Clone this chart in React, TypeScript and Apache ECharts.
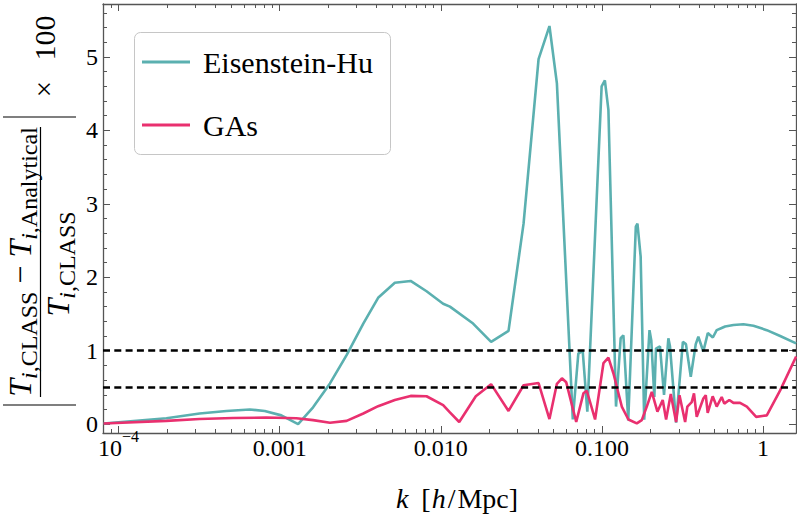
import React, { useEffect, useRef } from 'react';
import * as echarts from 'echarts';

// ---------------- data ----------------
const kEH = [8.07e-5, 1.98e-4, 3.18e-4, 4.67e-4, 6.52e-4, 8.07e-4, 1.023e-3, 1.3e-3, 1.61e-3, 2.05e-3, 2.6e-3, 3.3e-3, 4.08e-3, 5.18e-3, 6.49e-3, 8.15e-3, 1.033e-2, 1.138e-2, 1.585e-2, 2.05e-2, 2.63e-2, 3.26e-2, 4.04e-2, 4.72e-2, 5.25e-2, 6.59e-2, 7.13e-2, 7.59e-2, 8.11e-2, 9.95e-2, 0.1042, 0.1096, 0.1222, 0.1306, 0.1358, 0.1455, 0.1622, 0.166, 0.1738, 0.1828, 0.1972, 0.2023, 0.2113, 0.2163, 0.229, 0.2427, 0.2582, 0.2642, 0.2884, 0.3177, 0.3319, 0.3556, 0.3819, 0.3963, 0.4256, 0.4536, 0.4875, 0.5152, 0.5534, 0.5808, 0.6546, 0.7551, 0.871, 1.054, 1.276, 1.603];
const ehValues = [0.01, 0.08, 0.145, 0.18, 0.2, 0.18, 0.12, 0.0, 0.23, 0.555, 0.94, 1.37, 1.72, 1.925, 1.95, 1.81, 1.64, 1.6, 1.37, 1.12, 1.27, 2.73, 4.97, 5.42, 4.64, 0.064, 0.96, 1.0, 0.17, 4.6, 4.68, 4.28, 0.24, 1.17, 1.21, 0.05, 2.69, 2.73, 2.28, 0.06, 1.28, 1.14, 0.37, 1.03, 1.06, 0.4, 1.17, 1.06, 0.02, 1.12, 1.09, 0.645, 1.09, 1.19, 0.99, 1.24, 1.18, 1.28, 1.31, 1.33, 1.35, 1.36, 1.34, 1.28, 1.2, 1.1];

const kGA = [8.07e-5, 1.98e-4, 3.18e-4, 5.13e-4, 8.26e-4, 1.268e-3, 1.61e-3, 2.05e-3, 2.6e-3, 3.3e-3, 4.08e-3, 5.18e-3, 6.49e-3, 8.15e-3, 1.033e-2, 1.138e-2, 1.3e-2, 1.648e-2, 2.05e-2, 2.63e-2, 3.26e-2, 4.04e-2, 4.72e-2, 5.25e-2, 5.64e-2, 6.0e-2, 6.92e-2, 7.67e-2, 8.05e-2, 9.06e-2, 0.1021, 0.1096, 0.1178, 0.1327, 0.1459, 0.1644, 0.1766, 0.1897, 0.2037, 0.2208, 0.2382, 0.25, 0.2673, 0.2884, 0.3027, 0.3281, 0.3388, 0.3606, 0.3724, 0.3873, 0.4256, 0.4406, 0.4529, 0.4864, 0.5152, 0.5534, 0.5741, 0.6166, 0.6546, 0.7194, 0.7925, 0.9057, 1.054, 1.276, 1.603];
const gaValues = [0.01, 0.045, 0.07, 0.085, 0.09, 0.08, 0.055, 0.02, 0.045, 0.145, 0.245, 0.33, 0.385, 0.38, 0.26, 0.16, 0.03, 0.38, 0.545, 0.18, 0.53, 0.56, 0.07, 0.55, 0.625, 0.57, 0.03, 0.42, 0.455, 0.064, 0.83, 0.905, 0.69, 0.24, 0.064, 0.01, 0.055, 0.24, 0.44, 0.17, 0.33, 0.064, 0.41, 0.03, 0.395, 0.03, 0.24, 0.3, 0.42, 0.1, 0.35, 0.395, 0.155, 0.38, 0.24, 0.37, 0.28, 0.33, 0.29, 0.29, 0.24, 0.1, 0.12, 0.46, 0.92];

const seriesNames = ['Eisenstein-Hu', 'GAs'];
const refLevels = [1, 0.5];

const xMajorTicks = [1e-4, 1e-3, 1e-2, 1e-1, 1];
const xTickLabels = ['10^-4', '0.001', '0.010', '0.100', '1'];
const xMinorTicks = [
  9e-5,
  2e-4, 3e-4, 4e-4, 5e-4, 6e-4, 7e-4, 8e-4, 9e-4,
  2e-3, 3e-3, 4e-3, 5e-3, 6e-3, 7e-3, 8e-3, 9e-3,
  2e-2, 3e-2, 4e-2, 5e-2, 6e-2, 7e-2, 8e-2, 9e-2,
  0.2, 0.3, 0.4, 0.5, 0.6, 0.7, 0.8, 0.9,
];
const yMajorTicks = [0, 1, 2, 3, 4, 5];
const yTickLabels = ['0', '1', '2', '3', '4', '5'];
const yMinorTicks = [0.2, 0.4, 0.6, 0.8, 1.2, 1.4, 1.6, 1.8, 2.2, 2.4, 2.6, 2.8, 3.2, 3.4, 3.6, 3.8, 4.2, 4.4, 4.6, 4.8, 5.2, 5.4, 5.6];

const X_MIN = 8e-5;
const X_MAX = 1.6;
const Y_MIN = -0.12;
const Y_MAX = 5.72;

// ---------------- styles ----------------
const FAMILY = 'Liberation Serif';
const TEAL = '#5BB0B0';
const PINK = '#E9306F';
const FRAME = '#555555';

function measure(text: string, size: number, italic: boolean): number {
  const ctx = document.createElement('canvas').getContext('2d');
  if (!ctx) return text.length * size * 0.5;
  ctx.font = `${italic ? 'italic ' : ''}${size}px "${FAMILY}"`;
  return ctx.measureText(text).width;
}

type Piece = [string, number, boolean, boolean]; // text, size, italic, isSub

function layoutPieces(pieces: Piece[], centerU: number, mainV: number, subV: number) {
  const widths = pieces.map((p) => measure(p[0], p[1], p[2]));
  const total = widths.reduce((a, b) => a + b, 0);
  let u = centerU - total / 2;
  return pieces.map((p, i) => {
    const el = {
      type: 'text',
      x: u,
      y: p[3] ? subV : mainV,
      silent: true,
      style: {
        text: p[0],
        fontSize: p[1],
        fontFamily: FAMILY,
        fontStyle: p[2] ? 'italic' : 'normal',
        fill: '#000',
        align: 'left',
        verticalAlign: 'middle',
      },
    };
    u += widths[i];
    return el;
  });
}

function buildYTitle() {
  const M = 32;
  const S = 24;
  const numerator: Piece[] = [
    ['T', M, true, false],
    ['i', S, true, true],
    [',CLASS', S, false, true],
    [' \u2212 ', M, false, false],
    ['T', M, true, false],
    ['i', S, true, true],
    [',Analytical', S, false, true],
  ];
  const denominator: Piece[] = [
    ['T', M, true, false],
    ['i', S, true, true],
    [',CLASS', S, false, true],
  ];
  const lineStyle = { stroke: '#000', lineWidth: 1.2 };
  const children: any[] = [
    { type: 'line', silent: true, shape: { x1: 35, y1: 3, x2: 35, y2: 76 }, style: lineStyle },
    { type: 'line', silent: true, shape: { x1: 323, y1: 3, x2: 323, y2: 76 }, style: lineStyle },
    { type: 'line', silent: true, shape: { x1: 43, y1: 40.5, x2: 313, y2: 40.5 }, style: lineStyle },
    ...layoutPieces(numerator, 178, 19.5, 28.5),
    ...layoutPieces(denominator, 176, 57.5, 66.5),
    {
      type: 'text', x: 351, y: 44, silent: true,
      style: { text: '\u00d7', fontSize: 29, fontFamily: FAMILY, fill: '#000', align: 'center', verticalAlign: 'middle' },
    },
    {
      type: 'text', x: 402, y: 44, silent: true,
      style: { text: '100', fontSize: 30, fontFamily: FAMILY, fill: '#000', align: 'center', verticalAlign: 'middle' },
    },
  ];
  return { type: 'group', x: 0, y: 440, rotation: Math.PI / 2, children };
}

function xLabelFormatter(v: number): string {
  const i = xMajorTicks.findIndex((t) => Math.abs(Math.log10(t) - Math.log10(v)) < 1e-6);
  const lab = i >= 0 ? xTickLabels[i] : '';
  if (lab.indexOf('^') >= 0) {
    const [b, e] = lab.split('^');
    return `{b|${b}}{s|${e.replace('-', '\u2212')}}`;
  }
  return `{b|${lab}}`;
}

function xAxisDef(gridIndex: number, position: 'bottom' | 'top', values: number[], len: number, labels: boolean, showLine: boolean) {
  return {
    type: 'log',
    logBase: 10,
    gridIndex,
    position,
    min: X_MIN,
    max: X_MAX,
    splitLine: { show: false },
    minorTick: { show: false },
    axisLine: { show: showLine, onZero: false, lineStyle: { color: FRAME, width: 1.3 } },
    axisTick: { show: true, inside: true, length: len, customValues: values, lineStyle: { color: FRAME, width: 1 } },
    axisLabel: labels
      ? {
          show: true,
          customValues: xMajorTicks,
          margin: -5,
          formatter: xLabelFormatter,
          rich: {
            b: { fontSize: 24, fontFamily: FAMILY, color: '#000', padding: [8, 0, 0, 0], verticalAlign: 'bottom' },
            s: { fontSize: 16, fontFamily: FAMILY, color: '#000', verticalAlign: 'top' },
          },
        }
      : { show: false },
  };
}

function yAxisDef(gridIndex: number, position: 'left' | 'right', values: number[], len: number, labels: boolean, showLine: boolean) {
  return {
    type: 'value',
    gridIndex,
    position,
    min: Y_MIN,
    max: Y_MAX,
    splitLine: { show: false },
    minorTick: { show: false },
    axisLine: { show: showLine, onZero: false, lineStyle: { color: FRAME, width: 1.3 } },
    axisTick: { show: true, inside: true, length: len, customValues: values, lineStyle: { color: FRAME, width: 1 } },
    axisLabel: labels
      ? {
          show: true,
          customValues: yMajorTicks,
          margin: 5,
          fontSize: 24,
          fontFamily: FAMILY,
          color: '#000',
          formatter: (v: number) => {
            const i = yMajorTicks.findIndex((t) => Math.abs(t - v) < 1e-9);
            return i >= 0 ? yTickLabels[i] : '';
          },
        }
      : { show: false },
  };
}

export default function App() {
  const ref = useRef<HTMLDivElement>(null);
  useEffect(() => {
    if (!ref.current) return;
    const chart = echarts.init(ref.current, null, { renderer: 'svg' });
    const gridBox = { left: 103, right: 1, top: 4, bottom: 86, outerBoundsMode: 'none', containLabel: false };
    const option: any = {
      animation: false,
      backgroundColor: '#ffffff',
      grid: [gridBox, { ...gridBox }],
      legend: {
        data: seriesNames,
        orient: 'vertical',
        left: 134,
        top: 32,
        padding: [15, 18, 15, 8],
        itemGap: 33,
        itemWidth: 48,
        itemHeight: 3,
        icon: 'rect',
        selectedMode: false,
        textStyle: { fontFamily: FAMILY, fontSize: 30, color: '#000', lineHeight: 30, padding: [0, 0, 0, 8] },
      },
      xAxis: [
        xAxisDef(0, 'bottom', xMajorTicks, 7, true, true),
        xAxisDef(0, 'top', xMajorTicks, 7, false, true),
        xAxisDef(1, 'bottom', xMinorTicks, 4, false, false),
        xAxisDef(1, 'top', xMinorTicks, 4, false, false),
      ],
      yAxis: [
        yAxisDef(0, 'left', yMajorTicks, 7, true, true),
        yAxisDef(0, 'right', yMajorTicks, 7, false, true),
        yAxisDef(1, 'left', yMinorTicks, 4, false, false),
        yAxisDef(1, 'right', yMinorTicks, 4, false, false),
      ],
      series: [
        {
          name: seriesNames[0],
          type: 'line',
          xAxisIndex: 0,
          yAxisIndex: 0,
          data: kEH.map((k, i) => [k, ehValues[i]]),
          showSymbol: false,
          symbol: 'none',
          color: TEAL,
          lineStyle: { color: TEAL, width: 2.6 },
          silent: true,
          z: 2,
        },
        {
          name: seriesNames[1],
          type: 'line',
          xAxisIndex: 0,
          yAxisIndex: 0,
          data: kGA.map((k, i) => [k, gaValues[i]]),
          showSymbol: false,
          symbol: 'none',
          color: PINK,
          lineStyle: { color: PINK, width: 2.6 },
          silent: true,
          z: 3,
        },
        {
          name: 'ref',
          type: 'line',
          xAxisIndex: 0,
          yAxisIndex: 0,
          data: [],
          silent: true,
          z: 4,
          markLine: {
            silent: true,
            symbol: ['none', 'none'],
            label: { show: false },
            lineStyle: { color: '#000', type: [7, 4.3], width: 2.5 },
            data: refLevels.map((v) => ({ yAxis: v })),
          },
        },
      ],
      graphic: [
        {
          type: 'rect',
          silent: true,
          shape: { x: 134.5, y: 32.5, width: 256, height: 122, r: 6 },
          style: { fill: 'none', stroke: '#c6c6c6', lineWidth: 1 },
        },
        {
          type: 'text',
          x: 457,
          y: 498,
          silent: true,
          style: {
            text: '{k|k}{n|[}{i|h}{s|/}{n|Mpc]}',
            align: 'center',
            verticalAlign: 'middle',
            rich: {
              k: { fontSize: 28, fontFamily: FAMILY, fontStyle: 'italic', color: '#000', padding: [0, 13, 0, 0] },
              i: { fontSize: 28, fontFamily: FAMILY, fontStyle: 'italic', color: '#000', padding: [0, 2, 0, 1] },
              n: { fontSize: 28, fontFamily: FAMILY, color: '#000' },
              s: { fontSize: 28, fontFamily: FAMILY, color: '#000', padding: [0, 2, 0, 0] },
            },
          },
        },
        buildYTitle(),
      ],
    };
    chart.setOption(option);
    return () => chart.dispose();
  }, []);
  return <div ref={ref} style={{ position: 'fixed', left: 0, top: 0, width: 797, height: 519 }} />;
}
